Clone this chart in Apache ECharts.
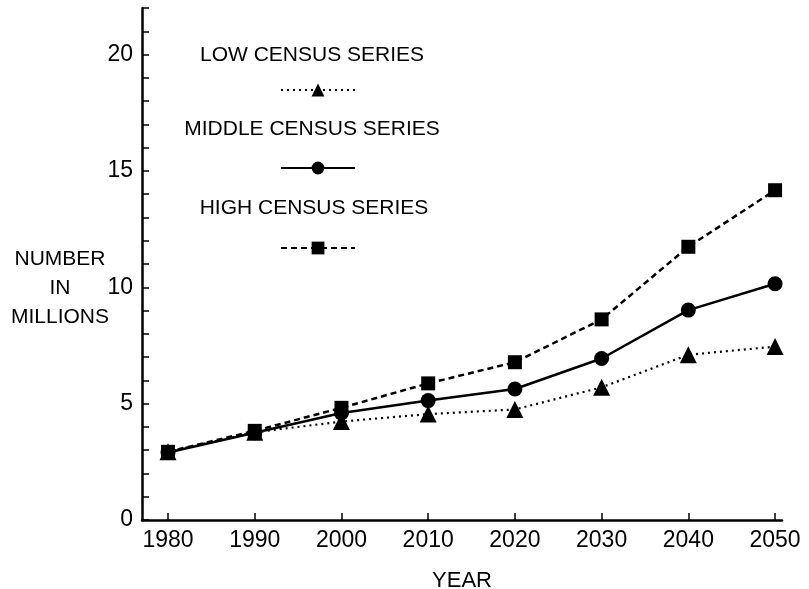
<!DOCTYPE html>
<html>
<head>
<meta charset="utf-8">
<script src="https://cdn.jsdelivr.net/npm/echarts@6/dist/echarts.min.js"></script>
<style>
  html, body { margin: 0; padding: 0; background: #fff; }
  #chart { width: 809px; height: 589px; }
</style>
</head>
<body>
<div id="chart"></div>
<script>
const years = [1980, 1990, 2000, 2010, 2020, 2030, 2040, 2050];
const lowSeries = [2.93, 3.77, 4.23, 4.55, 4.75, 5.7, 7.1, 7.45];
const middleSeries = [2.9, 3.75, 4.6, 5.13, 5.63, 6.94, 9.02, 10.15];
const highSeries = [2.93, 3.83, 4.82, 5.87, 6.78, 8.62, 11.74, 14.17];
const yTickLabels = [0, 5, 10, 15, 20];

const FONT = "Liberation Sans";
const INK = "#000";

const seriesDefs = [
  { name: "LOW CENSUS SERIES", values: lowSeries, symbol: "triangle", size: 17, line: { type: [2, 4], width: 2.2 } },
  { name: "MIDDLE CENSUS SERIES", values: middleSeries, symbol: "circle", size: 15, line: { type: "solid", width: 2.5 } },
  { name: "HIGH CENSUS SERIES", values: highSeries, symbol: "rect", size: 14, line: { type: [6, 4], width: 2.5 } },
];

// legend text sits above each icon, so the text is drawn on its own
const legendRows = [
  { textX: 312, textY: 55, iconTop: 77 },
  { textX: 312, textY: 129, iconTop: 155 },
  { textX: 314, textY: 208, iconTop: 235 },
];

const chart = echarts.init(document.getElementById("chart"), null, { renderer: "canvas" });

chart.setOption({
  backgroundColor: "#fff",
  animation: false,
  grid: { left: 142, right: 27, top: 8, bottom: 69, outerBoundsMode: "none", containLabel: false },
  xAxis: {
    type: "value",
    min: 1977,
    max: 2050.8,
    axisLine: { lineStyle: { color: INK, width: 2.5 } },
    axisTick: { inside: true, length: 7, customValues: years, lineStyle: { color: INK, width: 1.5 } },
    axisLabel: {
      customValues: years,
      formatter: (v) => String(v),
      color: INK, fontFamily: FONT, fontSize: 23, margin: 9,
    },
    splitLine: { show: false },
    name: "YEAR",
    nameLocation: "middle",
    nameGap: 50,
    nameTextStyle: { color: INK, fontFamily: FONT, fontSize: 22 },
  },
  yAxis: {
    type: "value",
    min: 0,
    max: 22,
    interval: 1,
    axisLine: { show: true, lineStyle: { color: INK, width: 2.5 } },
    axisTick: { show: true, inside: true, length: 7, lineStyle: { color: INK, width: 1.5 } },
    axisLabel: {
      color: INK, fontFamily: FONT, fontSize: 23, margin: 9,
      formatter: (v) => (yTickLabels.includes(v) ? String(v) : ""),
    },
    splitLine: { show: false },
  },
  legend: seriesDefs.map((s, i) => ({
    data: [s.name],
    left: 275,
    top: legendRows[i].iconTop,
    itemWidth: 74,
    itemHeight: 16,
    itemGap: 0,
    formatter: () => "",
    selectedMode: false,
    textStyle: { fontSize: 1 },
  })),
  graphic: [
    {
      type: "text", x: 60, y: 245,
      style: {
        text: "NUMBER\nIN\nMILLIONS", align: "center", lineHeight: 29,
        fill: INK, font: `21px "${FONT}"`,
      },
    },
    ...seriesDefs.map((s, i) => ({
      type: "text", x: legendRows[i].textX, y: legendRows[i].textY,
      style: {
        text: s.name, align: "center", verticalAlign: "middle",
        fill: INK, font: `21px "${FONT}"`,
      },
    })),
  ],
  series: seriesDefs.map((s) => ({
    type: "line",
    name: s.name,
    data: years.map((y, i) => [y, s.values[i]]),
    symbol: s.symbol,
    symbolSize: s.size,
    showAllSymbol: true,
    itemStyle: { color: INK },
    lineStyle: { color: INK, width: s.line.width, type: s.line.type },
    z: 3,
  })),
});
</script>
</body>
</html>
